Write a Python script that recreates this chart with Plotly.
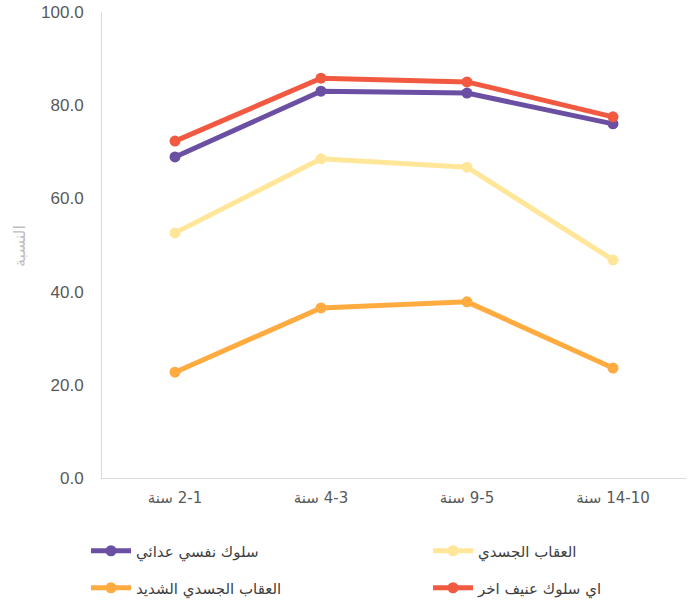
import plotly.graph_objects as go

categories = ["1-2 سنة", "3-4 سنة", "5-9 سنة", "10-14 سنة"]
tick_text = ["2-1 سنة", "4-3 سنة", "9-5 سنة", "14-10 سنة"]
hostile_psych = [68.9, 83.0, 82.6, 76.0]
physical = [52.6, 68.5, 66.7, 46.8]
severe_physical = [22.7, 36.5, 37.8, 23.6]
other_violent = [72.3, 85.8, 85.0, 77.5]

series = [
    ("سلوك نفسي عدائي", hostile_psych, "#6A4FA3", "legend"),
    ("العقاب الجسدي", physical, "#FFE699", "legend2"),
    ("العقاب الجسدي الشديد", severe_physical, "#FFAB40", "legend3"),
    ("اي سلوك عنيف اخر", other_violent, "#F15A40", "legend4"),
]

fig = go.Figure()
for name, vals, color, lg in series:
    fig.add_trace(go.Scatter(
        x=categories, y=vals, name=name, mode="lines+markers",
        line=dict(color=color, width=5),
        marker=dict(color=color, size=11),
        legend=lg,
    ))

FW, FH = 694, 606
PL, PR, PT, PB = 102, 686, 12, 478
W = PR - PL
H = PB - PT

def px_x(px):
    return (px - PL) / W

def px_y(py):
    return (PB - py) / H

arab_font = "DejaVu Sans, sans-serif"
legend_common = dict(orientation="h", xanchor="left", yanchor="middle",
                     font=dict(size=15, color="#404040", family=arab_font),
                     bgcolor="rgba(0,0,0,0)", itemwidth=40)

fig.update_layout(
    width=FW, height=FH,
    margin=dict(l=PL, r=FW - PR, t=PT, b=FH - PB, autoexpand=False),
    paper_bgcolor="white", plot_bgcolor="white",
    font=dict(family="Liberation Sans, DejaVu Sans, sans-serif", color="#595959"),
    showlegend=True,
    legend=dict(legend_common, x=px_x(86), y=px_y(551)),
    legend2=dict(legend_common, x=px_x(428), y=px_y(551)),
    legend3=dict(legend_common, x=px_x(86), y=px_y(588)),
    legend4=dict(legend_common, x=px_x(428), y=px_y(588)),
    xaxis=dict(
        tickvals=categories, ticktext=["\u200F" + t for t in tick_text],
        showline=True, linecolor="#D9D9D9", linewidth=1,
        showgrid=False, ticks="", automargin=False, ticklabelstandoff=6,
        tickfont=dict(size=15, color="#595959", family=arab_font),
        range=[-0.5, 3.5],
    ),
    yaxis=dict(
        range=[0, 100], dtick=20, tickformat=".1f",
        showline=True, linecolor="#D9D9D9", linewidth=1,
        showgrid=False, zeroline=False, ticks="", automargin=False,
        ticklabelstandoff=14,
        tickfont=dict(size=17, color="#595959"),
    ),
    annotations=[dict(
        text="النسبة", textangle=-90, xref="paper", yref="paper",
        x=px_x(20), y=px_y(246), xanchor="center", yanchor="middle",
        showarrow=False, font=dict(size=16, color="#BFBFBF", family=arab_font),
    )],
)

fig.write_html("out.html", config={"displayModeBar": False},
               post_script="document.body.style.margin='0';")
